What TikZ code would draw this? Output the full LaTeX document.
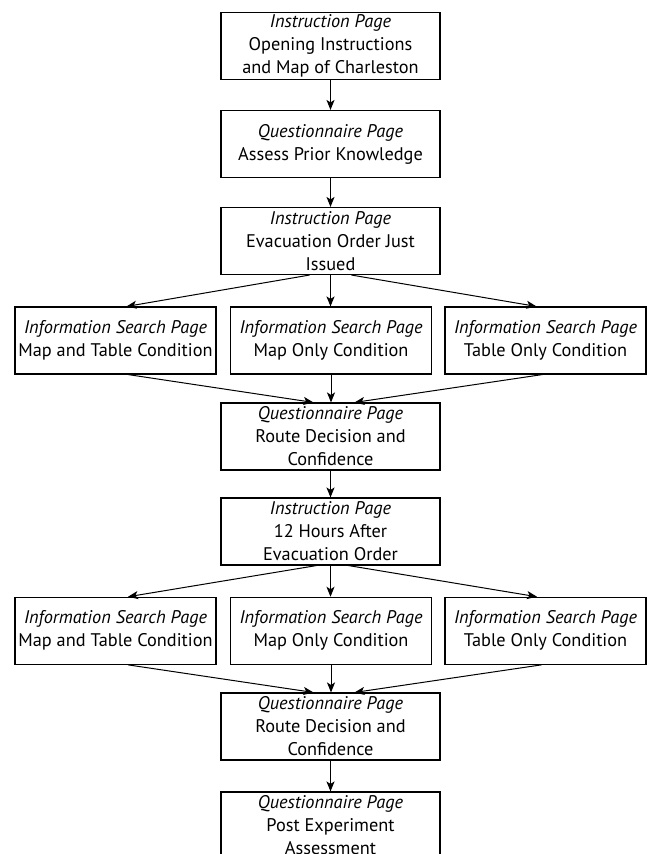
\documentclass[tikz,border=0pt]{standalone}
\usepackage{fontspec}
\setmainfont{PT Sans}
\usetikzlibrary{arrows.meta}
\begin{document}
\begin{tikzpicture}[x=1pt,y=-1pt,
  box/.style={draw,line width=1.1pt,inner sep=0pt,align=center,
    font=\fontsize{18.3}{23}\selectfont},
  cbox/.style={box,minimum width=219pt,minimum height=67pt},
  rbox/.style={box,minimum width=201pt,minimum height=67pt},
  arr/.style={line width=1pt,-{Stealth[length=10pt,width=8pt,inset=2.5pt]}}]
\useasboundingbox (0,0) rectangle (647,854);
\clip (0,0) rectangle (647,854);
\node[cbox] (b1) at (330.5,45.8) {\textit{Instruction Page}\\Opening Instructions\\and Map of Charleston};
\node[cbox] (b2) at (330.5,144) {\textit{Questionnaire Page}\\Assess Prior Knowledge};
\node[cbox] (b3) at (330.5,241) {\textit{Instruction Page}\\Evacuation Order Just\\Issued};
\node[rbox] (r1a) at (115.5,340.5) {\textit{Information Search Page}\\Map and Table Condition};
\node[rbox] (r1b) at (331,340.5) {\textit{Information Search Page}\\Map Only Condition};
\node[rbox] (r1c) at (545.5,340.5) {\textit{Information Search Page}\\Table Only Condition};
\node[cbox] (b5) at (330.5,436.5) {\textit{Questionnaire Page}\\Route Decision and\\Confidence};
\node[cbox] (b6) at (330.5,531.5) {\textit{Instruction Page}\\12 Hours After\\Evacuation Order};
\node[rbox] (r2a) at (115.5,630.8) {\textit{Information Search Page}\\Map and Table Condition};
\node[rbox] (r2b) at (331,630.8) {\textit{Information Search Page}\\Map Only Condition};
\node[rbox] (r2c) at (545.5,630.8) {\textit{Information Search Page}\\Table Only Condition};
\node[cbox] (b8) at (330.5,726.5) {\textit{Questionnaire Page}\\Route Decision and\\Confidence};
\node[cbox] (b9) at (330.5,825.5) {\textit{Questionnaire Page}\\Post Experiment\\Assessment};
\draw[arr] (b1) -- (b2);
\draw[arr] (b2) -- (b3);
\draw[arr] ([xshift=-21pt]b3.south) -- ([xshift=11pt]r1a.north);
\draw[arr] (b3.south) -- (b3.south |- r1b.north);
\draw[arr] ([xshift=21pt]b3.south) -- ([xshift=-9pt]r1c.north);
\draw[arr] ([xshift=12.5pt]r1a.south) -- ([xshift=-17pt]b5.north);
\draw[arr] (r1b.south) -- (r1b.south |- b5.north);
\draw[arr] ([xshift=-3pt]r1c.south) -- ([xshift=24pt]b5.north);
\draw[arr] (b5) -- (b6);
\draw[arr] ([xshift=-14pt]b6.south) -- ([xshift=12.5pt]r2a.north);
\draw[arr] (b6.south) -- (b6.south |- r2b.north);
\draw[arr] ([xshift=18pt]b6.south) -- ([xshift=-8.5pt]r2c.north);
\draw[arr] ([xshift=12.5pt]r2a.south) -- ([xshift=-17pt]b8.north);
\draw[arr] (r2b.south) -- (r2b.south |- b8.north);
\draw[arr] ([xshift=-4pt]r2c.south) -- ([xshift=24pt]b8.north);
\draw[arr] (b8) -- (b9);
\end{tikzpicture}
\end{document}
